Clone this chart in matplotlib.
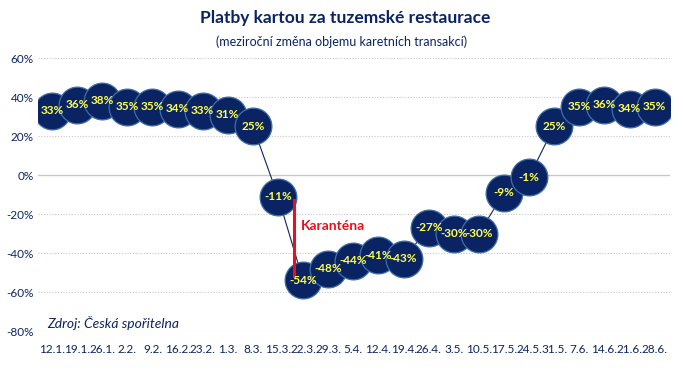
import matplotlib.pyplot as plt
import numpy as np

plt.rcParams['font.family'] = ['Lato', 'DejaVu Sans']

weeks = ['12.1.', '19.1.', '26.1.', '2.2.', '9.2.', '16.2.', '23.2.', '1.3.', '8.3.',
         '15.3.', '22.3.', '29.3.', '5.4.', '12.4.', '19.4.', '26.4.', '3.5.', '10.5.',
         '17.5.', '24.5.', '31.5.', '7.6.', '14.6.', '21.6.', '28.6.']
change = [33, 36, 38, 35, 35, 34, 33, 31, 25, -11, -54, -48, -44, -41, -43,
          -27, -30, -30, -9, -1, 25, 35, 36, 34, 35]
yticks = [60, 40, 20, 0, -20, -40, -60, -80]

navy = '#0a2463'
x = np.arange(len(weeks))

fig = plt.figure(figsize=(6.83, 3.72), dpi=100)
ax = fig.add_axes([0.0556, 0.110, 0.925, 0.734])

# grid
for v in yticks:
    if v == 0:
        ax.axhline(v, color='#c8c8c8', linewidth=1, zorder=0)
    else:
        ax.axhline(v, color='#c8c8c8', linewidth=0.8, linestyle=(0, (1, 1.5)), zorder=0)

ax.plot(x, change, color=navy, linewidth=0.8, zorder=1)
for i, (xi, v) in enumerate(zip(x, change)):
    ax.scatter(xi, v, s=700, color=navy, edgecolor='#3f6fa8', linewidth=0.9, zorder=2 + i)
    # labels sit above every bubble, like Excel data labels
    ax.text(xi, v, f'{v}%', color='#ffff4d', fontsize=8.5, fontweight='bold',
            ha='center', va='center', zorder=100)

# quarantine marker
ax.plot([9.65, 9.65], [-13, -52], color='#e8101a', linewidth=2.2, zorder=50)
ax.text(9.9, -26, 'Karanténa', color='#e8101a', fontsize=10, fontweight='bold',
        ha='left', va='center', zorder=50)

ax.text(-0.2, -76, 'Zdroj: Česká spořitelna', color=navy, fontsize=10,
        style='italic', ha='left', va='center')

ax.set_xlim(-0.56, 24.6)
ax.set_ylim(-80, 60)
ax.set_yticks(yticks)
ax.set_yticklabels([f'{v}%' for v in yticks], color=navy, fontsize=8.5)
ax.set_xticks(x)
ax.set_xticklabels(weeks, color=navy, fontsize=8.5)
ax.tick_params(axis='y', length=0, pad=3)
ax.tick_params(axis='x', length=0, pad=9)
for s in ax.spines.values():
    s.set_visible(False)

fig.text(0.505, 0.952, 'Platby kartou za tuzemské restaurace', color=navy,
         fontsize=12.5, fontweight='bold', ha='center', va='center')
fig.text(0.50, 0.888, '(meziroční změna objemu karetních transakcí)', color=navy,
         fontsize=9, ha='center', va='center')

fig.savefig('out.png', dpi=100)
